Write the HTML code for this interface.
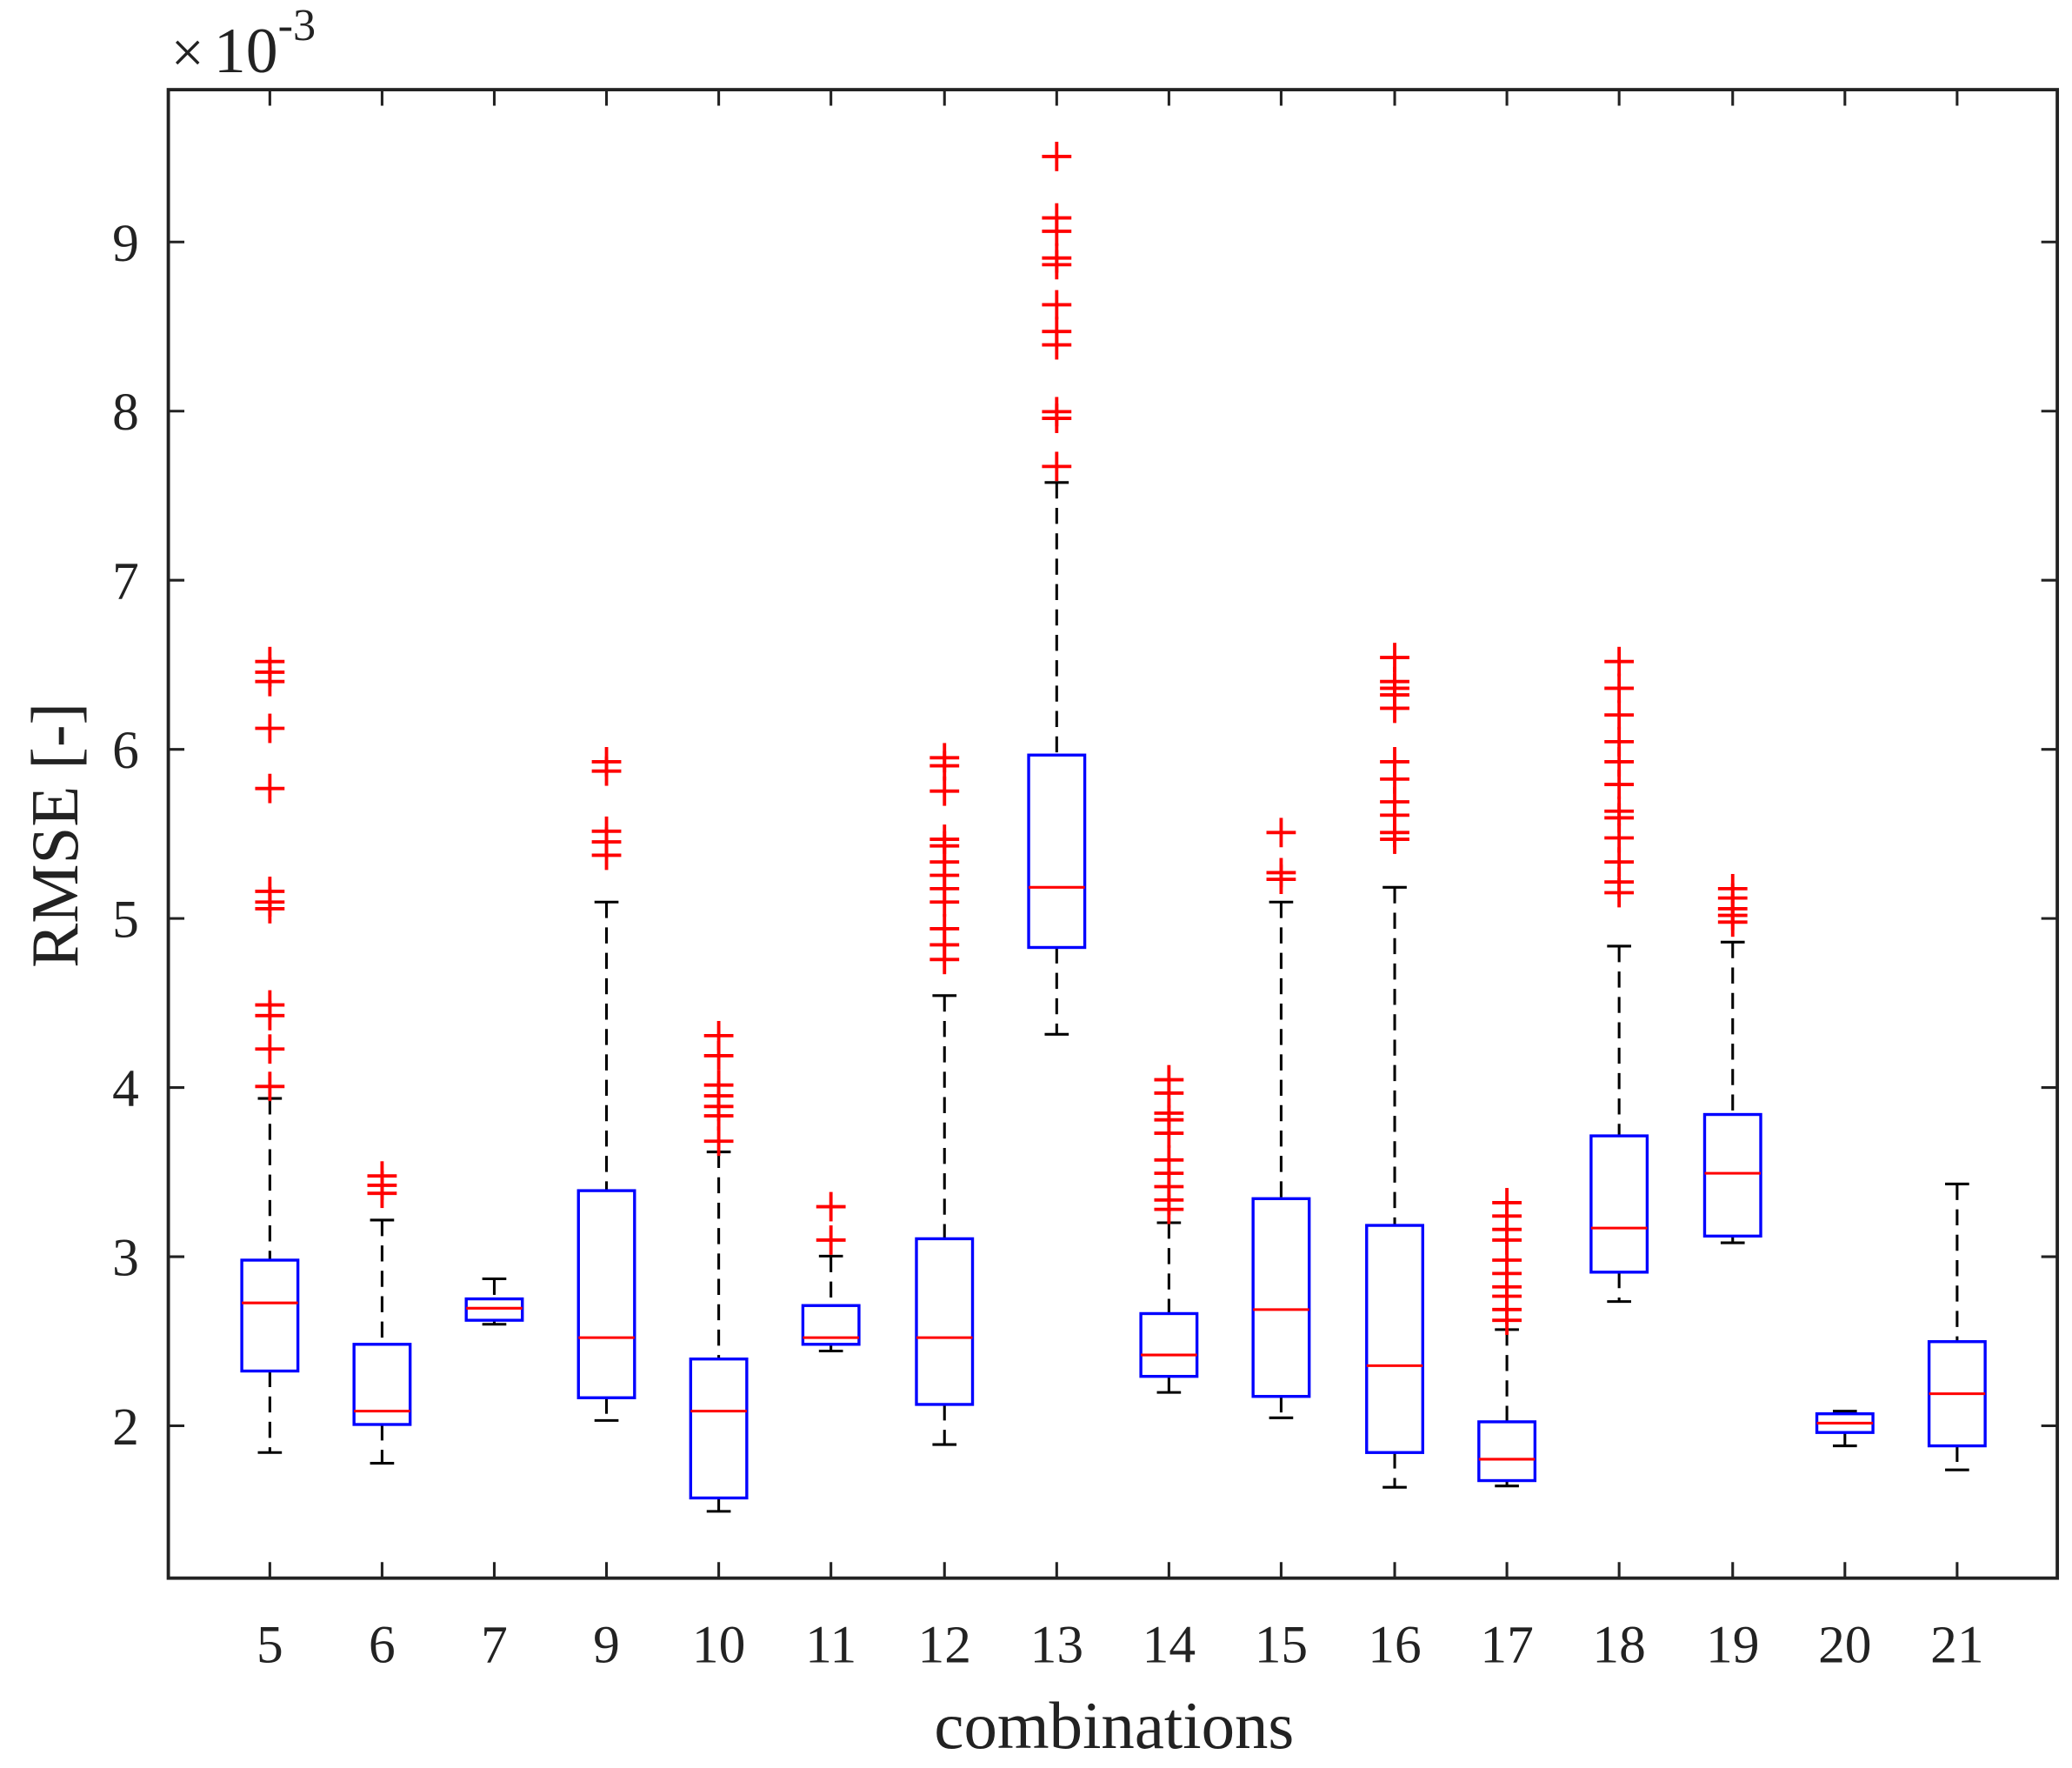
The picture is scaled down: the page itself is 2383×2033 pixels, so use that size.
<!DOCTYPE html>
<html><head><meta charset="utf-8"><style>
html,body{margin:0;padding:0;background:#fff;}
svg{display:block;}
text{font-family:"Liberation Serif",serif;fill:#222;}
</style></head><body>
<svg id="s" width="2383" height="2033" viewBox="0 0 1551 1323" xmlns="http://www.w3.org/2000/svg">
<rect x="0" y="0" width="1551" height="1323" fill="#fff"/>
<g id="g"></g>
<text x="128" y="54" font-size="44" fill="#666">×</text>
<text x="160" y="54" font-size="48" fill="#333">10</text>
<text x="208" y="30" font-size="34">-3</text>
<text x="0" y="0" font-size="50" text-anchor="middle" transform="translate(58,625) rotate(-90)">RMSE [-]</text>
<text x="834" y="1308" font-size="50" text-anchor="middle">combinations</text>
</svg>
<script>
const g=document.getElementById('g');let h='';
const L=126,R=1540,T=67,B=1181;
const yv=v=>1067-(v-2)*126.57;
for(let v=2;v<=9;v++){const y=yv(v);h+=`<line x1="${L}" y1="${y}" x2="${L+12}" y2="${y}" stroke="#222" stroke-width="2"/><line x1="${R}" y1="${y}" x2="${R-12}" y2="${y}" stroke="#222" stroke-width="2"/><text x="104" y="${y+14}" font-size="40" text-anchor="end">${v}</text>`;}
const D=[
[5,202,822,943,975,1026,1087,[813,785,760,752,680,675,667,590,545,510,503,495]],
[6,286,913,1006,1056,1066,1095,[880,887,893]],
[7,370,957,972,979,988,991,[]],
[9,454,675,891,1001,1046,1063,[622,630,640,570,577]],
[10,538,862,1017,1056,1121,1131,[775,790,812,820,828,835,854]],
[11,622,940,977,1001,1006,1011,[903,928]],
[12,707,745,927,1001,1051,1081,[567,573,592,628,633,645,655,665,675,695,707,718]],
[13,791,361,565,664,709,774,[117,163,173,193,198,228,248,258,308,313,349]],
[14,875,915,983,1014,1030,1042,[808,818,833,838,848,868,878,888,898,905]],
[15,959,675,897,980,1045,1061,[623,653,658]],
[16,1044,664,917,1022,1087,1113,[492,510,515,520,530,570,583,600,610,623,628]],
[17,1128,995,1064,1092,1108,1112,[900,910,920,928,943,953,963,970,980,988]],
[18,1212,708,850,919,952,974,[495,515,535,555,570,587,607,612,627,645,660,668]],
[19,1297,705,834,878,925,930,[665,672,680,685,690]],
[20,1381,1056,1058,1065,1072,1082,[]],
[21,1465,886,1004,1043,1082,1100,[]]];
for(const [lab,x,wt,q3,md,q1,wl,out] of D){
 h+=`<line x1="${x}" y1="${B}" x2="${x}" y2="${B-12}" stroke="#222" stroke-width="2"/><line x1="${x}" y1="${T}" x2="${x}" y2="${T+12}" stroke="#222" stroke-width="2"/>`;
 h+=`<text x="${x}" y="${1244}" font-size="40" text-anchor="middle">${lab}</text>`;
 h+=`<line x1="${x}" y1="${wt}" x2="${x}" y2="${q3}" stroke="#000" stroke-width="2" stroke-dasharray="12,7"/><line x1="${x}" y1="${q1}" x2="${x}" y2="${wl}" stroke="#000" stroke-width="2" stroke-dasharray="12,7"/>`;
 h+=`<line x1="${x-9}" y1="${wt}" x2="${x+9}" y2="${wt}" stroke="#000" stroke-width="2"/><line x1="${x-9}" y1="${wl}" x2="${x+9}" y2="${wl}" stroke="#000" stroke-width="2"/>`;
 h+=`<rect x="${x-21}" y="${q3}" width="42" height="${q1-q3}" fill="none" stroke="#00f" stroke-width="2.2"/>`;
 h+=`<line x1="${x-21}" y1="${md}" x2="${x+21}" y2="${md}" stroke="#f00" stroke-width="2"/>`;
 for(const o of out){h+=`<line x1="${x-11}" y1="${o}" x2="${x+11}" y2="${o}" stroke="#f00" stroke-width="2.5"/><line x1="${x}" y1="${o-11}" x2="${x}" y2="${o+11}" stroke="#f00" stroke-width="2.5"/>`;}
}
h+=`<rect x="${L}" y="${T}" width="${R-L}" height="${B-T}" fill="none" stroke="#222" stroke-width="2.5"/>`;
g.innerHTML=h;
</script>
</body></html>
